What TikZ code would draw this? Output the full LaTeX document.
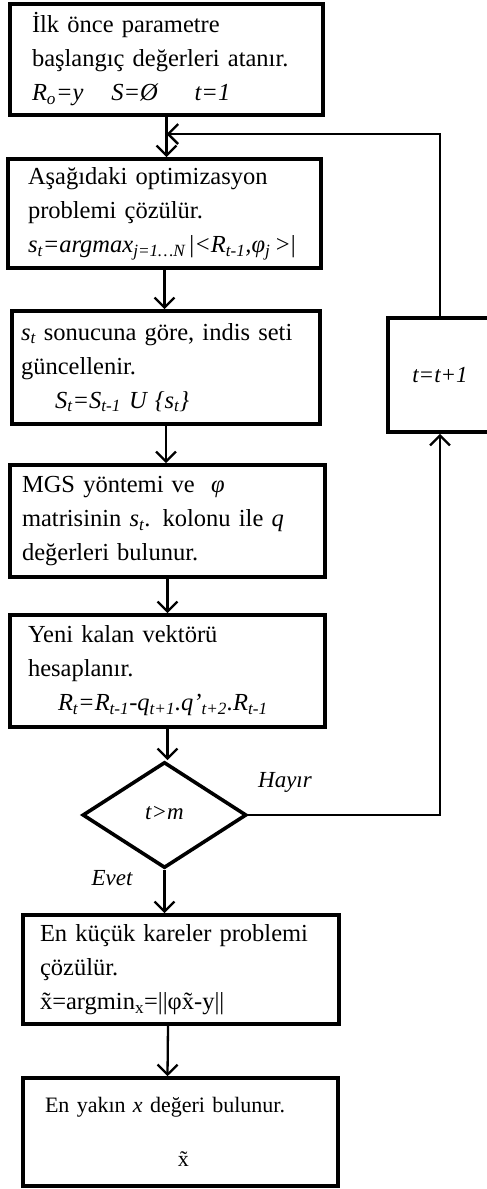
\documentclass[tikz,border=0pt]{standalone}
\usepackage{fontspec}
\setmainfont{Liberation Serif}
\usetikzlibrary{arrows.meta, shapes.geometric}

\newcommand{\idx}[1]{\textsubscript{#1}}
\hyphenpenalty=10000

\tikzset{
	stepbox/.style={draw, line width=3.6pt, align=left, inner ysep=0pt,
		font=\fontsize{24.5}{34}\selectfont},
	flowarrow/.style={line width=2.3pt, -{Straight Barb[length=10pt, width=20pt]}},
	answer/.style={font=\fontsize{23}{28}\selectfont\itshape},
}

\begin{document}
\begin{tikzpicture}[x=1pt, y=-1pt]
\useasboundingbox (0,0) rectangle (487,1189);

	% --- main column of steps
	\node[stepbox, minimum width=313pt, minimum height=111pt, text width=269pt] (init) at (166.5,59.5)
		{İlk önce parametre\\ başlangıç değerleri atanır.\\
		\textit{R\idx{o}=y}\hspace{28pt}\textit{S=Ø}\hspace{36pt}\textit{t=1}};
	\node[stepbox, minimum width=313pt, minimum height=109pt, text width=273pt] (optim) at (164.5,213.5)
		{Aşağıdaki optimizasyon\\ problemi çözülür.\\
		\textit{s\idx{t}=argmax\idx{j=1…N}}\,|\textit{<R\idx{t-1},φ\idx{j}\,>}|};
	\node[stepbox, minimum width=308pt, minimum height=113pt, text width=290pt] (update) at (166,367.5)
		{\textit{s\idx{t}} sonucuna göre, indis seti\\ güncellenir.\\
		\hspace*{34pt}\textit{S\idx{t}=S\idx{t-1} U \{s\idx{t}\}}};
	\node[stepbox, minimum width=315pt, minimum height=112pt, text width=291pt] (mgs) at (167.5,521)
		{MGS yöntemi ve \ \textit{φ}\\ matrisinin \textit{s\idx{t}}. kolonu ile \textit{q}\\ değerleri bulunur.};
	\node[stepbox, minimum width=315pt, minimum height=112pt, text width=279pt] (resid) at (167.5,671)
		{Yeni kalan vektörü\\ hesaplanır.\\
		\hspace*{30pt}\textit{R\idx{t}=R\idx{t-1}-q\idx{t+1}.q'\idx{t+2}.R\idx{t-1}}};

	% decision
	\node[diamond, draw, line width=3.6pt, aspect=1.55, minimum width=164pt, minimum height=106pt,
		inner sep=0pt, font=\fontsize{23}{28}\selectfont] (check) at (164.5,815) {\raisebox{5pt}{\textit{t>m}}};

	% counter box on the right
	\node[stepbox, align=center, minimum width=104pt, minimum height=114pt,
		font=\fontsize{23}{28}\selectfont] (incr) at (440,375) {\textit{t=t+1}};

	% --- final steps
	\node[stepbox, minimum width=316pt, minimum height=109pt, text width=282pt] (lsq) at (181,969.5)
		{En küçük kareler problemi\\ çözülür.\\ \~{x}=argmin\idx{x}=||φ\~{x}-y||};
	\node[stepbox, minimum width=315pt, minimum height=108pt, text width=271pt,
		font=\fontsize{22}{30}\selectfont] (near) at (180.5,1132)
		{En yakın \textit{x} değeri bulunur.\\[24pt] \hspace*{133pt}\~{x}};

	% answers
	\node[answer] (no) at (285,782) {Hayır};
	\node[answer] (yes) at (112,878) {Evet};

	% draw arrows down the column
	\foreach \from/\to in {init/optim, optim/update, update/mgs, mgs/resid, resid/check}
		\draw[flowarrow] (\from.south) -- (\from.south |- \to.north);
	\draw[flowarrow] (check.south) -- (check.south |- lsq.north);
	\draw[flowarrow] ([xshift=-13pt]lsq.south) -- ([xshift=-13pt]near.north);

	% loop back
	\coordinate (join) at (init.south |- 0,134);
	\draw[flowarrow] (check.east) -| (incr.south);
	\draw[flowarrow] (incr.north) |- (join);
\end{tikzpicture}
\end{document}
